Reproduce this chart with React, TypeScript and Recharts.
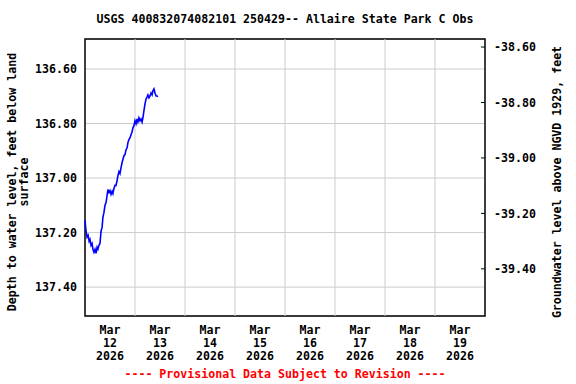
import React from "react";
import {
  LineChart,
  Line,
  XAxis,
  YAxis,
  CartesianGrid,
  ReferenceLine,
  ReferenceArea,
} from "recharts";

// hours since Mar 12 2026 00:00
const hours = [
  0, 0.5, 1.0, 1.5, 2.0, 2.4, 2.9, 3.4, 3.8, 4.3, 4.8, 5.3, 5.8, 6.2, 6.7,
  7.2, 7.7, 8.2, 8.6, 9.1, 9.6, 10.1, 10.6, 11.0, 11.5, 12.0, 12.5, 13.0,
  13.4, 13.9, 14.4, 14.9, 15.4, 15.8, 16.3, 16.8, 17.3, 17.8, 18.2, 18.7,
  19.2, 19.7, 20.2, 20.6, 21.1, 21.6, 22.1, 22.6, 23.0, 23.5, 24.0, 24.5,
  25.0, 25.4, 25.9, 26.4, 26.9, 27.4, 27.8, 28.3, 28.8, 29.3, 29.8, 30.2,
  30.7, 31.2, 31.7, 32.2, 32.6, 33.1, 33.6, 34.1, 34.6, 35.0,
];

// depth to water level, feet below land surface
const depth = [
  137.155, 137.195, 137.217, 137.21, 137.232, 137.225, 137.247, 137.24,
  137.261, 137.272, 137.261, 137.276, 137.254, 137.261, 137.247, 137.24,
  137.195, 137.181, 137.144, 137.126, 137.1, 137.09, 137.064, 137.042,
  137.053, 137.046, 137.06, 137.049, 137.057, 137.038, 137.027, 137.027,
  137.009, 136.991, 136.976, 136.984, 136.962, 136.943, 136.932, 136.918,
  136.914, 136.896, 136.889, 136.87, 136.859, 136.852, 136.841, 136.83,
  136.816, 136.808, 136.79, 136.801, 136.783, 136.794, 136.779, 136.79,
  136.783, 136.794, 136.779, 136.753, 136.728, 136.71, 136.702, 136.695,
  136.706, 136.699, 136.688, 136.695, 136.68, 136.673, 136.688, 136.699,
  136.699, 136.702,
];

const leftTicks = [136.6, 136.8, 137.0, 137.2, 137.4];
const rightTicks = [-39.4, -39.2, -39.0, -38.8, -38.6];
const dayLabels = ["12", "13", "14", "15", "16", "17", "18", "19"];
const labelHours = [12, 36, 60, 84, 108, 132, 156, 180];
const midnightHours = [24, 48, 72, 96, 120, 144, 168];

const LEFT_DOMAIN = [136.49, 137.506];
// groundwater level above NGVD 1929
const RIGHT_DOMAIN = [-39.57, -38.571];

const data = hours.map((h, i) => ({ h, depth: depth[i] }));

const FONT = "'DejaVu Sans Mono', 'Liberation Mono', monospace";
const tickStyle = { fontFamily: FONT, fontSize: 11.6, fontWeight: 700, fill: "#000" };

const DateTick = ({ x, y, payload }: any) => {
  const idx = labelHours.indexOf(payload.value);
  const day = dayLabels[idx] ?? "";
  return (
    <text x={x} y={y} textAnchor="middle" {...tickStyle}>
      <tspan x={x} dy={18}>Mar</tspan>
      <tspan x={x} dy={13}>{day}</tspan>
      <tspan x={x} dy={13}>2026</tspan>
    </text>
  );
};

// right axis: short tick pointing into the plot, label outside
const RightTick = ({ x, y, payload }: any) => (
  <g>
    <line x1={x - 9} x2={x - 13} y1={y} y2={y} stroke="#000" strokeWidth={1} />
    <text x={x} y={y} dy="0.355em" textAnchor="start" {...tickStyle}>
      {payload.value.toFixed(2)}
    </text>
  </g>
);

export default function App() {
  return (
    <div
      style={{
        position: "absolute",
        left: 0,
        top: 0,
        width: 576,
        height: 384,
        background: "#fff",
        fontFamily: FONT,
        fontWeight: 700,
        fontSize: 11.6,
      }}
    >
      <div
        style={{
          position: "absolute",
          left: 0,
          width: 570,
          top: 12,
          textAlign: "center",
          whiteSpace: "nowrap",
        }}
      >
        USGS 400832074082101 250429-- Allaire State Park C Obs
      </div>

      <LineChart
        width={576}
        height={384}
        data={data}
        margin={{ top: 39, right: 0, bottom: 0, left: 0 }}
      >
        <CartesianGrid
          yAxisId="left"
          vertical={false}
          stroke="#cccccc"
          strokeWidth={1}
        />
        <XAxis
          dataKey="h"
          type="number"
          domain={[0, 192]}
          ticks={labelHours}
          interval={0}
          height={68}
          axisLine={false}
          tickLine={false}
          tickSize={0}
          tickMargin={0}
          tick={<DateTick />}
        />
        <YAxis
          yAxisId="left"
          type="number"
          domain={LEFT_DOMAIN}
          reversed
          ticks={leftTicks}
          width={85}
          axisLine={false}
          tickLine={false}
          tickSize={0}
          tickMargin={8}
          tickFormatter={(v: number) => v.toFixed(2)}
          tick={tickStyle}
        />
        <YAxis
          yAxisId="right"
          orientation="right"
          type="number"
          domain={RIGHT_DOMAIN}
          ticks={rightTicks}
          interval={0}
          allowDataOverflow
          width={91}
          axisLine={false}
          tickLine={false}
          tickSize={0}
          tickMargin={9}
          tick={<RightTick />}
        />
        {midnightHours.map((h) => (
          <ReferenceLine
            key={h}
            yAxisId="left"
            x={h}
            stroke="#cccccc"
            strokeWidth={1}
          />
        ))}
        <ReferenceArea
          yAxisId="left"
          x1={0}
          x2={192}
          y1={LEFT_DOMAIN[0]}
          y2={LEFT_DOMAIN[1]}
          fill="none"
          fillOpacity={0}
          stroke="#000"
          strokeWidth={1.5}
        />
        <Line
          yAxisId="left"
          type="linear"
          dataKey="depth"
          stroke="#0000ff"
          strokeWidth={1.6}
          dot={false}
          isAnimationActive={false}
        />
      </LineChart>

      <div
        style={{
          position: "absolute",
          left: 18,
          top: 182,
          transform: "translate(-50%, -50%) rotate(-90deg)",
          whiteSpace: "nowrap",
          textAlign: "center",
          lineHeight: "12px",
        }}
      >
        Depth to water level, feet below land
        <br />
        surface
      </div>
      <div
        style={{
          position: "absolute",
          left: 557,
          top: 182,
          transform: "translate(-50%, -50%) rotate(-90deg)",
          whiteSpace: "nowrap",
        }}
      >
        Groundwater level above NGVD 1929, feet
      </div>

      <div
        style={{
          position: "absolute",
          left: 0,
          width: 570,
          top: 367,
          textAlign: "center",
          color: "#ff0000",
          whiteSpace: "nowrap",
        }}
      >
        ---- Provisional Data Subject to Revision ----
      </div>
    </div>
  );
}
